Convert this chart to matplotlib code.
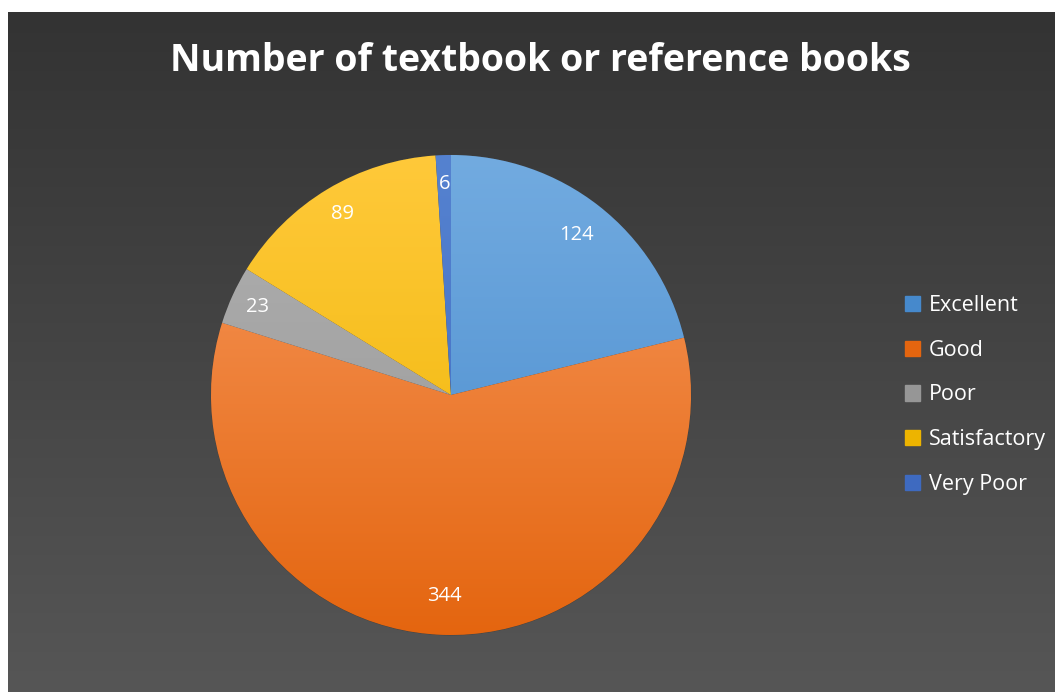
import numpy as np
import matplotlib
matplotlib.use('Agg')
from matplotlib import pyplot as plt
from matplotlib.colors import LinearSegmentedColormap

# Chart data
categories = ['Excellent', 'Good', 'Poor', 'Satisfactory', 'Very Poor']
counts = [124, 344, 23, 89, 6]
title = 'Number of textbook or reference books'

# Slice colours (light at top of pie, darker at bottom)
light = ['#72ABE0', '#F7995E', '#B0B0B0', '#FFC93A', '#5582D0']
dark = ['#4689CC', '#E4650F', '#969696', '#EDB400', '#3E6AC0']

W, H = 1055, 692
fig = plt.figure(figsize=(W / 100, H / 100), dpi=100)
fig.patch.set_facecolor('white')

# Dark gradient background (image has a small white margin left/top)
bg = fig.add_axes([8 / W, 0, 1 - 8 / W, 680 / H])
bg_cmap = LinearSegmentedColormap.from_list('bg', ['#333333', '#565656'])
bg.imshow(np.linspace(0, 1, 256).reshape(-1, 1), aspect='auto', cmap=bg_cmap, extent=(0, 1, 0, 1))
bg.set_axis_off()

fig.text(540 / W, 1 - 61 / H, title, color='white', fontsize=27, fontweight='bold',
         family='Open Sans', ha='center', va='center')

# Pie axes: centre about (451, 395) px, radius 240 px
cx, cy, r = 451, 395, 240
ax = fig.add_axes([(cx - r) / W, (H - cy - r) / H, 2 * r / W, 2 * r / H])
wedges, texts = ax.pie(counts, startangle=90, counterclock=False, radius=1.0,
                       wedgeprops=dict(linewidth=0.6, edgecolor='#404040'))
ax.set_xlim(-1.0, 1.0)
ax.set_ylim(-1.0, 1.0)
ax.set_aspect('equal')
ax.set_axis_off()

grad = np.linspace(1, 0, 256).reshape(-1, 1)
for w, lc, dc in zip(wedges, light, dark):
    cm = LinearSegmentedColormap.from_list('s', [dc, lc])
    w.set_facecolor(dc)
    im = ax.imshow(grad, cmap=cm, extent=(-1, 1, -1, 1), aspect='auto', zorder=w.get_zorder() + 0.1)
    im.set_clip_path(w)

# Data labels positioned along each slice
label_r = [0.845, 0.84, 0.885, 0.88, 0.88]
total = sum(counts)
start = 90.0
for val, lr in zip(counts, label_r):
    ang = start - 360.0 * val / total / 2
    start -= 360.0 * val / total
    x = lr * np.cos(np.radians(ang))
    y = lr * np.sin(np.radians(ang))
    ax.text(x, y, str(val), color='white', fontsize=14.5, family='Open Sans',
            ha='center', va='center', zorder=10)

# Legend
handles = [plt.Rectangle((0, 0), 1, 1, color=dc) for dc in dark]
leg = fig.legend(handles, categories, loc='center left', bbox_to_anchor=(896 / W, 1 - 395 / H),
                 frameon=False, labelspacing=1.1, handlelength=0.72, handleheight=0.72,
                 handletextpad=0.4, borderaxespad=0, prop={'family': 'Open Sans', 'size': 15.5})
for t in leg.get_texts():
    t.set_color('white')

plt.savefig('out.png', dpi=100, facecolor=fig.get_facecolor())
